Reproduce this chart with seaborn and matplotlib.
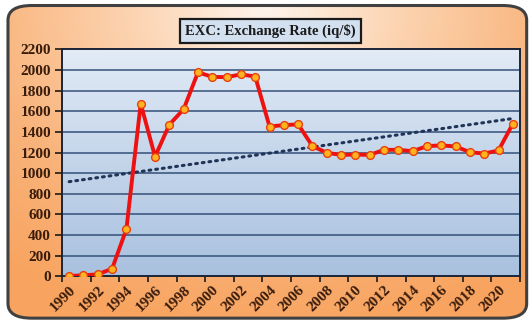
import numpy as np
import pandas as pd
import matplotlib
matplotlib.use("Agg")
import matplotlib.pyplot as plt
from matplotlib.colors import LinearSegmentedColormap
from matplotlib.patches import FancyBboxPatch
import seaborn as sns

# data
years = list(range(1990, 2022))
rate = [4, 10, 20, 74, 458, 1674, 1160, 1470, 1620, 1977,
        1933, 1930, 1957, 1936, 1452, 1466, 1472, 1262, 1197, 1177,
        1180, 1177, 1226, 1226, 1213, 1262, 1269, 1259, 1203, 1190,
        1220, 1480]
y_ticks = list(range(0, 2201, 200))
x_labels = [str(y) for y in years if y % 2 == 0]

df = pd.DataFrame({"year": years, "rate": rate})

sns.set_theme(style="white")
plt.rcParams["font.family"] = ["Liberation Serif", "DejaVu Serif"]

fig = plt.figure(figsize=(5.32, 3.24), dpi=100)
fig.patch.set_facecolor("white")

# orange rounded background
bg = fig.add_axes([0, 0, 1, 1], zorder=-5)
bg.set_axis_off()
bg.set_xlim(0, 1)
bg.set_ylim(0, 1)
gx, gy = np.meshgrid(np.linspace(0, 1, 300), np.linspace(0, 1, 200))
dist = np.sqrt(((gx - 0.5) / 0.8) ** 2 + ((gy - 0.97) / 1.0) ** 2)
orange = LinearSegmentedColormap.from_list("or", ["#fef3ea", "#fcd2ae", "#f9b47c", "#f8a460"])
box = FancyBboxPatch((0.015, 0.018), 0.975, 0.965,
                     boxstyle="round,pad=0,rounding_size=0.045",
                     transform=bg.transAxes, fc="none", ec="#404040", lw=2.2, zorder=3)
bg.add_patch(box)
im = bg.imshow(np.clip(dist, 0, 1), cmap=orange, extent=(0, 1, 0, 1), origin="lower",
               aspect="auto", zorder=1)
im.set_clip_path(box)

pos = [62 / 532, (324 - 276.4) / 324, (520 - 62) / 532, (276.4 - 49.3) / 324]

# blue gradient plot area
pa = fig.add_axes(pos, zorder=-1)
pa.set_axis_off()
blue = LinearSegmentedColormap.from_list("bl", ["#a9c1df", "#c4d5ea", "#e2ebf6"])
pa.imshow(np.linspace(0, 1, 100).reshape(-1, 1), cmap=blue, origin="lower",
          extent=(0, 1, 0, 1), aspect="auto")

ax = fig.add_axes(pos)
ax.patch.set_alpha(0)

for v in y_ticks[1:-1]:
    ax.axhline(v, color="#33507a", lw=1.1, zorder=1)

sns.regplot(data=df, x="year", y="rate", scatter=False, ci=None, truncate=True, ax=ax,
            line_kws=dict(color="#1f3456", lw=2.2, ls=(0, (0.6, 1.6)),
                          dash_capstyle="round", zorder=2))
sns.lineplot(data=df, x="year", y="rate", ax=ax, color="#ee1111", lw=2.8, zorder=3,
             marker="o", markersize=5.6, markerfacecolor="#ffb320",
             markeredgecolor="#e8400c", markeredgewidth=1.0)

ax.set_xlim(1989.5, 2021.5)
ax.set_ylim(0, 2200)
ax.set_xlabel("")
ax.set_ylabel("")

ax.set_yticks(y_ticks)
ax.set_yticklabels([str(v) for v in y_ticks])
ax.set_xticks([y for y in years if y % 2 == 0])
ax.set_xticklabels(x_labels, rotation=45, ha="right", rotation_mode="anchor")
ax.set_xticks(np.arange(1989.5, 2022, 2), minor=True)
ax.tick_params(axis="x", which="major", length=0, pad=5, labelsize=11, labelcolor="#3a1c0c")
ax.tick_params(axis="x", which="minor", length=4, width=1.2, color="#1a1a1a", direction="out")
ax.tick_params(axis="y", length=5, width=1.2, color="#1a1a1a", direction="out",
               labelsize=11, labelcolor="#3a1c0c", pad=3)
ax.tick_params(axis="both", which="both", bottom=True, left=True)
for lab in ax.get_xticklabels() + ax.get_yticklabels():
    lab.set_fontweight("bold")

for side in ["top", "right", "left", "bottom"]:
    ax.spines[side].set_visible(True)
    ax.spines[side].set_color("#1a2436")
    ax.spines[side].set_linewidth(1.4)

fig.text(0.5085, 0.905, "EXC: Exchange Rate (iq/$)", ha="center", va="center",
         fontsize=10.5, fontweight="bold", color="#1a1a1a",
         bbox=dict(boxstyle="square,pad=0.35", fc="#d3e0ef", ec="#1a1a1a", lw=1.6))

fig.savefig("out.png", dpi=100)
